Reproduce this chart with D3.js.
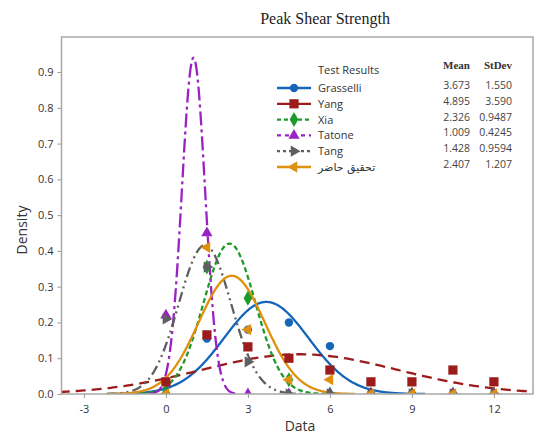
<!DOCTYPE html>
<html>
<head>
<meta charset="utf-8">
<script src="https://cdn.jsdelivr.net/npm/d3@7"></script>
<style>
  body { margin: 0; background: #fff; }
  text { font-family: "Open Sans", "DejaVu Sans", sans-serif; fill: #333; }
</style>
</head>
<body>
<svg></svg>
<script>
var width = 541, height = 436;

// fitted distributions
var names = ["Grasselli", "Yang", "Xia", "Tatone", "Tang", "تحقیق حاضر"];
var means = [3.673, 4.895, 2.326, 1.009, 1.428, 2.407];
var stdevs = [1.550, 3.590, 0.9487, 0.4245, 0.9594, 1.207];
var meanLabels = ["3.673", "4.895", "2.326", "1.009", "1.428", "2.407"];
var sdLabels = ["1.550", "3.590", "0.9487", "0.4245", "0.9594", "1.207"];

// histogram points at bin centres
var bins = [0, 1.5, 3, 4.5, 6, 7.5, 9, 10.5, 12];
var grasselli = [0, 0.155, 0.18, 0.2, 0.134, 0, 0, 0, 0];
var yang      = [0.034, 0.165, 0.132, 0.1, 0.067, 0.034, 0.034, 0.067, 0.034];
var xia       = [0, 0.355, 0.268, 0.04, 0, 0, 0, 0, 0];
var tatone    = [0.22, 0.45, 0, 0, 0, 0, 0, 0, 0];
var tang      = [0.21, 0.355, 0.09, 0, 0, 0, 0, 0, 0];
var hazer     = [0, 0.41, 0.18, 0.04, 0.04, 0, 0, 0, 0];
var pointSets = [grasselli, yang, xia, tatone, tang, hazer];

var xTicks = [-3, 0, 3, 6, 9, 12];
var yTicks = [0, 0.1, 0.2, 0.3, 0.4, 0.5, 0.6, 0.7, 0.8, 0.9];

// look of each series
var colors = ["#1565b8", "#9c1c1c", "#1f9a2a", "#9a22c4", "#5f5f5f", "#e0900f"];
var dashes = [null, "10,6", "5,3", "14,4,3,4", "10,4,2,4,2,4", null];
var legendDashes = [null, null, "4,3", "4,4", "3,3", null];
var shapes = [
  {type: d3.symbolCircle, size: 55, rot: 0},
  {type: d3.symbolSquare, size: 85, rot: 0},
  {type: d3.symbolDiamond, size: 65, rot: 0},
  {type: d3.symbolTriangle, size: 55, rot: 0},
  {type: d3.symbolTriangle, size: 55, rot: 90},
  {type: d3.symbolTriangle, size: 55, rot: -90}
];

// plot box
var pLeft = 61.5, pRight = 533, pTop = 37, pBottom = 394;

var svg = d3.select("svg").attr("width", width).attr("height", height);

var x = d3.scaleLinear().domain([-3.82, 13.43]).range([pLeft, pRight]);
var y = d3.scaleLinear().domain([0, 0.998]).range([pBottom, pTop]);

svg.append("clipPath").attr("id", "clip")
  .append("rect")
    .attr("x", pLeft).attr("y", pTop)
    .attr("width", pRight - pLeft).attr("height", pBottom - pTop);

// title
svg.append("text")
    .attr("x", 325).attr("y", 24)
    .attr("text-anchor", "middle")
    .style("font-family", "'Liberation Serif', 'DejaVu Serif', serif")
    .style("font-size", "16px")
    .style("fill", "#222")
    .text("Peak Shear Strength");

// axes
var xAxis = svg.append("g")
    .attr("transform", "translate(0," + pBottom + ")")
    .call(d3.axisBottom(x).tickValues(xTicks).tickSize(4).tickPadding(7)
      .tickFormat(function(d) { return String(d); }));
var yAxis = svg.append("g")
    .attr("transform", "translate(" + pLeft + ",0)")
    .call(d3.axisLeft(y).tickValues(yTicks).tickSize(4).tickPadding(4).tickFormat(d3.format(".1f")));

[xAxis, yAxis].forEach(function(a) {
  a.select(".domain").remove();
  a.selectAll(".tick line").attr("stroke", "#999");
  a.selectAll(".tick text").style("font-size", "11px").style("fill", "#333")
    .style("font-family", "'Open Sans', sans-serif");
});

svg.append("text")
    .attr("x", 300).attr("y", 431)
    .attr("text-anchor", "middle")
    .style("font-size", "14px")
    .text("Data");
svg.append("text")
    .attr("transform", "translate(27,230) rotate(-90)")
    .attr("text-anchor", "middle")
    .style("font-size", "14px")
    .text("Density");

var plot = svg.append("g").attr("clip-path", "url(#clip)");

var line = d3.line()
    .x(function(d) { return x(d[0]); })
    .y(function(d) { return y(d[1]); });

function pdf(v, m, s) {
  return Math.exp(-0.5 * Math.pow((v - m) / s, 2)) / (s * Math.sqrt(2 * Math.PI));
}

// fitted curves
names.forEach(function(n, i) {
  var lo = means[i] - 3.75 * stdevs[i], hi = means[i] + 3.75 * stdevs[i];
  var pts = d3.range(0, 301).map(function(k) {
    var v = lo + (hi - lo) * k / 300;
    return [v, pdf(v, means[i], stdevs[i])];
  });
  plot.append("path")
    .datum(pts)
    .attr("fill", "none")
    .attr("stroke", colors[i])
    .attr("stroke-width", 2.3)
    .attr("stroke-dasharray", dashes[i])
    .attr("d", line);
});

function marker(g, i) {
  return g.append("path")
    .attr("d", d3.symbol().type(shapes[i].type).size(shapes[i].size)())
    .attr("fill", colors[i]);
}

// histogram points
pointSets.forEach(function(set, i) {
  var g = plot.append("g");
  g.selectAll("path")
    .data(set).enter()
    .append("path")
      .attr("d", d3.symbol().type(shapes[i].type).size(shapes[i].size)())
      .attr("fill", colors[i])
      .attr("transform", function(d, k) {
        return "translate(" + x(bins[k]) + "," + y(d) + ") rotate(" + shapes[i].rot + ")";
      });
});

// frame
svg.append("rect")
    .attr("x", pLeft).attr("y", pTop)
    .attr("width", pRight - pLeft).attr("height", pBottom - pTop)
    .attr("fill", "none")
    .attr("stroke", "#a8a8a8")
    .attr("stroke-width", 1.5);

// legend
var legend = svg.append("g").attr("class", "legend");
legend.append("text")
    .attr("x", 318).attr("y", 74)
    .style("font-size", "11px")
    .text("Test Results");
legend.append("text")
    .attr("x", 470).attr("y", 69)
    .attr("text-anchor", "end")
    .style("font-family", "'Liberation Serif', serif")
    .style("font-weight", "bold")
    .style("font-size", "11px")
    .text("Mean");
legend.append("text")
    .attr("x", 512).attr("y", 69)
    .attr("text-anchor", "end")
    .style("font-family", "'Liberation Serif', serif")
    .style("font-weight", "bold")
    .style("font-size", "11px")
    .text("StDev");

names.forEach(function(n, i) {
  var cy = 88 + i * 15.8;
  var row = legend.append("g");
  row.append("line")
    .attr("x1", 277).attr("x2", 311)
    .attr("y1", cy).attr("y2", cy)
    .attr("stroke", colors[i])
    .attr("stroke-width", 2.3)
    .attr("stroke-dasharray", legendDashes[i]);
  marker(row, i)
    .attr("transform", "translate(294," + cy + ") rotate(" + shapes[i].rot + ")");
  row.append("text")
    .attr("x", 318).attr("y", cy + 4)
    .style("font-size", "11px")
    .style("font-family", i == 5 ? "'DejaVu Sans', sans-serif" : null)
    .text(n);
  row.append("text")
    .attr("x", 470).attr("y", cy + 1)
    .attr("text-anchor", "end")
    .style("font-size", "10.5px")
    .style("fill", "#444")
    .text(meanLabels[i]);
  row.append("text")
    .attr("x", 512).attr("y", cy + 1)
    .attr("text-anchor", "end")
    .style("font-size", "10.5px")
    .style("fill", "#444")
    .text(sdLabels[i]);
});
</script>
</body>
</html>
